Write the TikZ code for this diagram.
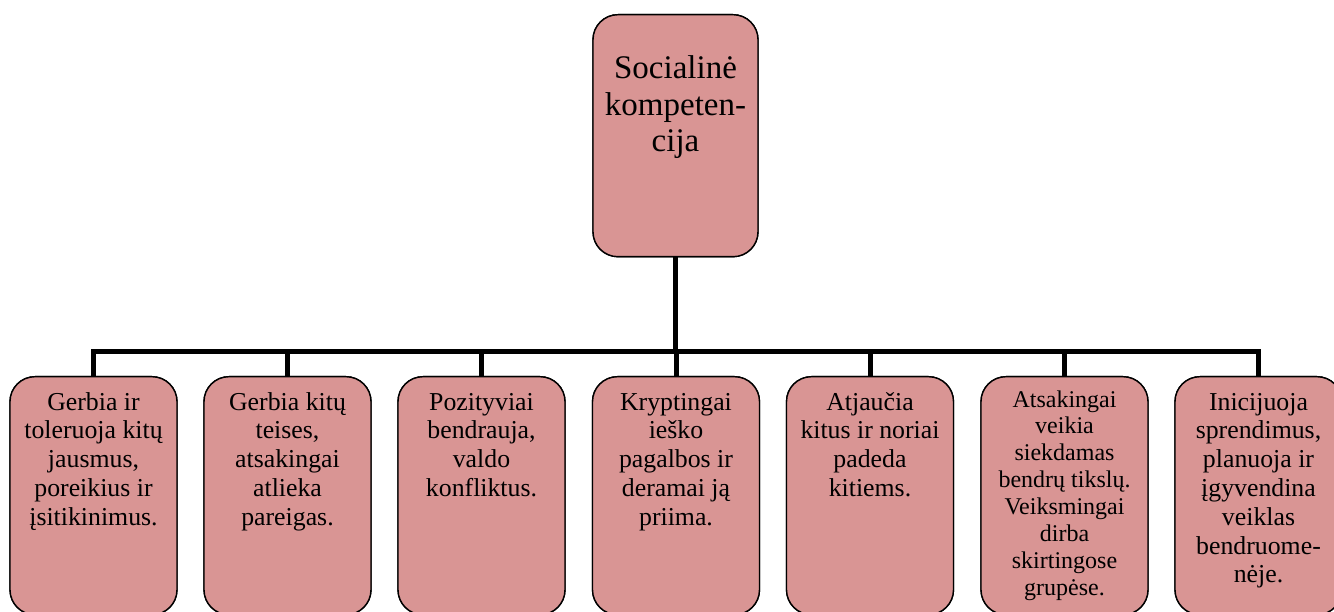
\documentclass[tikz,border=0pt]{standalone}
\usepackage{fontspec}
\setmainfont{Liberation Serif}
\definecolor{boxfill}{HTML}{D99594}
\begin{document}
\begin{tikzpicture}[x=1pt,y=-1pt,
  box/.style={draw=black, line width=1.4pt, fill=boxfill, rounded corners=25pt, inner sep=0pt},
  topbox/.style={box, minimum width=165pt, minimum height=242pt, anchor=north},
  child/.style={box, minimum width=167pt, minimum height=238pt, anchor=north},
  conn/.style={draw=black, line width=5pt, line join=miter},
  txt/.style={anchor=base, align=center, inner sep=0pt, font=\fontsize{25.8}{28.8}\selectfont},
  smalltxt/.style={anchor=base, align=center, inner sep=0pt, font=\fontsize{24}{26.9}\selectfont},
  toptxt/.style={anchor=base, align=center, inner sep=0pt, font=\fontsize{33}{36.5}\selectfont}]
\useasboundingbox (0,0) rectangle (1334,612);
% top box
\node[topbox] (top) at (675.5,14) {};
\coordinate (hub) at (675.5,352);
% children
\foreach \i/\x in {1/93.5,2/287.5,3/481.5,4/676,5/870,6/1064.5,7/1258.5}{
  \node[child] (b\i) at (\x,376) {};
}
% connectors
\foreach \i in {1,...,7}{
  \draw[conn] (top.south) -- (hub) -| (b\i.north);
}
% redraw boxes over connector ends
\node[topbox] at (675.5,14) {};
\foreach \i/\x in {1/93.5,2/287.5,3/481.5,4/676,5/870,6/1064.5,7/1258.5}{
  \node[child] at (\x,376) {};
}
% texts (anchor = baseline of the last line)
\node[toptxt] (ttop) at (675.5,152) {Socialinė\\kompeten-\\cija};
\node[txt] (t1) at (93.5,525.2) {Gerbia ir\\toleruoja kitų\\jausmus,\\poreikius ir\\įsitikinimus.};
\node[txt] (t2) at (287.5,525.2) {Gerbia kitų\\teises,\\atsakingai\\atlieka\\pareigas.};
\node[txt] (t3) at (481.5,496.4) {Pozityviai\\bendrauja,\\valdo\\konfliktus.};
\node[txt] (t4) at (676,525.2) {Kryptingai\\ieško\\pagalbos ir\\deramai ją\\priima.};
\node[txt] (t5) at (870,496.4) {Atjaučia\\kitus ir noriai\\padeda\\kitiems.};
\node[smalltxt] (t6) at (1064.5,595.3) {Atsakingai\\veikia\\siekdamas\\bendrų tikslų.\\Veiksmingai\\dirba\\skirtingose\\grupėse.};
\node[txt] (t7) at (1258.5,582.8) {Inicijuoja\\sprendimus,\\planuoja ir\\įgyvendina\\veiklas\\bendruome-\\nėje.};
\end{tikzpicture}
\end{document}
